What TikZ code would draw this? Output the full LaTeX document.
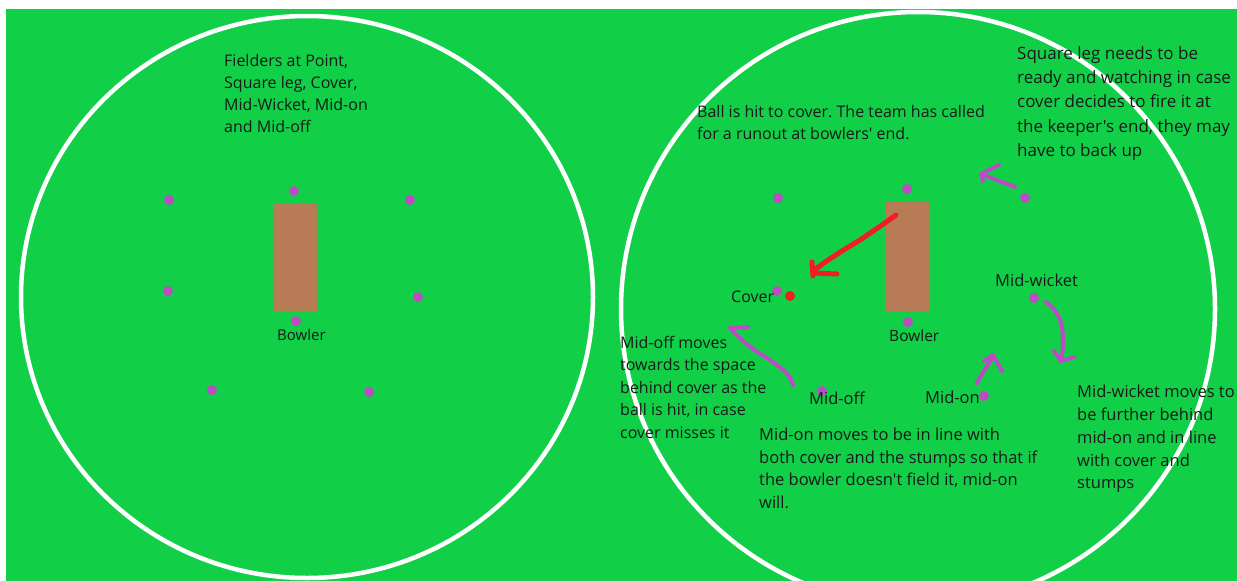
\documentclass[tikz,border=0pt]{standalone}
\usepackage{fontspec}
\setmainfont{Open Sans}[Ligatures=TeXOff]
\definecolor{grass}{RGB}{17,208,72}
\definecolor{pitchbrown}{RGB}{183,123,86}
\definecolor{fielder}{RGB}{188,76,196}
\definecolor{ballred}{RGB}{238,30,36}
\frenchspacing
\begin{document}
\begin{tikzpicture}[x=1pt,y=-1pt,
  dot/.style={circle,fill=fielder,inner sep=0,minimum size=10pt},
  lbl/.style={inner sep=0,anchor=west,font=\fontsize{16}{19}\selectfont,text=black!90},
  note/.style={inner sep=0,anchor=north west,align=left,text=black!90},
  stroke/.style={line width=4pt,line cap=round,line join=round,draw=fielder},
  redstroke/.style={line width=5pt,line cap=round,line join=round,draw=ballred},
  boundary/.style={draw=white,line width=4.5pt},
  strip/.style={fill=pitchbrown}]
\useasboundingbox (0,0) rectangle (1237,581);
\clip (0,0) rectangle (1237,581);
\fill[white] (0,0) rectangle (1237,581);
\fill[grass] (6,9) rectangle (1237,581);
% ---------- left field ----------
\draw[boundary] (307,297) ellipse [x radius=286,y radius=281];
\fill[strip] (273.5,203) rectangle (317,311);
\node[note,font=\fontsize{16}{22}\selectfont] (lnote) at (224,54) {Fielders at Point,\\Square leg, Cover,\\Mid-Wicket, Mid-on\\and Mid-off};
\node[dot] (l1) at (169,200) {};
\node[dot] (l2) at (294,191) {};
\node[dot] (l3) at (410,200) {};
\node[dot] (l4) at (168,291) {};
\node[dot] (l5) at (418,297) {};
\node[dot] (l6) at (296,321) {};
\node[dot] (l7) at (212,390) {};
\node[dot] (l8) at (369,392) {};
\node[lbl,font=\fontsize{15}{18}\selectfont] (lbowler) at (277,335) {Bowler};
% ---------- right field ----------
\draw[boundary] (918,309) circle [radius=297];
\fill[strip] (886,202) rectangle (930,312);
\node[note,font=\fontsize{17}{24.4}\selectfont] (sqnote) at (1017,46) {Square leg needs to be\\ready and watching in case\\cover decides to fire it at\\the keeper's end, they may\\have to back up};
\node[note,font=\fontsize{16}{21.7}\selectfont] (ballnote) at (697,105) {Ball is hit to cover. The team has called\\for a runout at bowlers' end.};
\node[note,font=\fontsize{16}{22.5}\selectfont] (offnote) at (620,336) {Mid-off moves\\towards the space\\behind cover as the\\ball is hit, in case\\cover misses it};
\node[note,font=\fontsize{16.5}{22.5}\selectfont] (onnote) at (759,428) {Mid-on moves to be in line with\\both cover and the stumps so that if\\the bowler doesn't field it, mid-on\\will.};
\node[note,font=\fontsize{16.5}{22.8}\selectfont] (wknote) at (1077,385) {Mid-wicket moves to\\be further behind\\mid-on and in line\\with cover and\\stumps};
\node[dot] (r1) at (778,198) {};
\node[dot] (r2) at (907,189) {};
\node[dot] (sqleg) at (1025,198) {};
\node[dot] (cover) at (777,291) {};
\node[circle,fill=ballred,inner sep=0,minimum size=10pt] (ball) at (790,296) {};
\node[dot] (midwk) at (1034,298) {};
\node[dot] (bowler) at (908,322) {};
\node[dot] (midoff) at (822,391) {};
\node[dot] (midon) at (984,396) {};
\node[lbl] (tcover) at (731,297) {Cover};
\node[lbl,font=\fontsize{16.5}{19}\selectfont] (tmidwk) at (995,280) {Mid-wicket};
\node[lbl,font=\fontsize{15.5}{19}\selectfont] (tbowler) at (889,336) {Bowler};
\node[lbl,font=\fontsize{16.5}{19}\selectfont] (tmidoff) at (809,398) {Mid-off};
\node[lbl,font=\fontsize{16.5}{19}\selectfont] (tmidon) at (925,397) {Mid-on};
% ---------- movement strokes ----------
\coordinate (sqA) at (1015,187);
\coordinate (sqB) at (981,174);
\draw[stroke] (sqA) -- (sqB);
\draw[stroke] (999,165) -- (sqB) -- (983,181);
\coordinate (offA) at (793,385);
\coordinate (offB) at (730,328);
\draw[stroke] (offA) .. controls (790,368) and (760,356) .. (748,345) .. controls (740,338) and (734,333) .. (offB);
\draw[stroke] (offB) -- (748,327);
\coordinate (onA) at (977,383);
\coordinate (onB) at (993,355);
\draw[stroke] (onA) .. controls (982,372) and (990,364) .. (onB);
\draw[stroke] (984,361) -- (onB) -- (1002,371);
\coordinate (wkA) at (1046,302);
\coordinate (wkB) at (1061,361);
\draw[stroke] (wkA) .. controls (1060,312) and (1063,325) .. (1063,340) .. controls (1063,350) and (1062,356) .. (wkB);
\draw[stroke] (1054,351) -- (wkB) -- (1074,357);
% ---------- ball path ----------
\coordinate (hitA) at (896,215);
\coordinate (hitB) at (813,271);
\draw[redstroke] (hitA) .. controls (885,223) and (872,232) .. (860,240) .. controls (845,249) and (830,258) .. (hitB);
\draw[redstroke] (812,262) -- (813,276);
\draw[redstroke] (813,273) -- (837,274);
\end{tikzpicture}
\end{document}
